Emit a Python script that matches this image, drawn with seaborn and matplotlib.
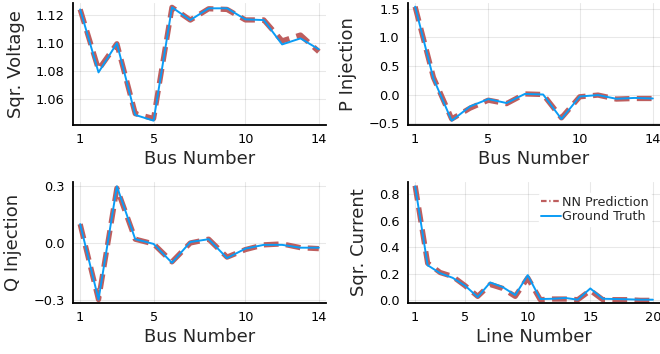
import matplotlib
matplotlib.use("Agg")
import matplotlib.pyplot as plt
import seaborn as sns
import pandas as pd

# ---- data ----
bus = list(range(1, 15))
lines = list(range(1, 21))

v_true = [1.124, 1.079, 1.0998, 1.0486, 1.0445, 1.1255, 1.1164, 1.1248, 1.1248, 1.1169, 1.1164, 1.099, 1.1033, 1.0955]
v_pred = [1.124, 1.081, 1.0995, 1.0495, 1.046, 1.1255, 1.1164, 1.1245, 1.124, 1.1165, 1.1165, 1.1015, 1.1057, 1.0938]

p_true = [1.54, 0.28, -0.46, -0.21, -0.08, -0.15, 0.01, 0.0, -0.43, -0.035, -0.01, -0.075, -0.06, -0.07]
p_pred = [1.54, 0.30, -0.43, -0.24, -0.10, -0.16, 0.01, 0.0, -0.41, -0.04, -0.01, -0.08, -0.07, -0.07]

q_true = [0.10, -0.30, 0.30, 0.02, -0.005, -0.105, 0.005, 0.02, -0.08, -0.03, -0.01, -0.01, -0.025, -0.025]
q_pred = [0.10, -0.30, 0.29, 0.02, -0.005, -0.10, 0.0, 0.02, -0.075, -0.035, -0.01, -0.005, -0.025, -0.03]

i_true = [0.86, 0.265, 0.205, 0.17, 0.11, 0.025, 0.135, 0.10, 0.04, 0.19, 0.01, 0.012, 0.018, 0.005, 0.09, 0.012, 0.01, 0.008, 0.005, 0.005]
i_pred = [0.865, 0.28, 0.21, 0.18, 0.11, 0.03, 0.12, 0.09, 0.03, 0.17, 0.005, 0.01, 0.01, 0.005, 0.075, 0.005, 0.005, 0.005, 0.0, 0.0]

bus_ticks = [1, 5, 10, 14]
line_ticks = [1, 5, 10, 15, 20]

RED = "#bb5555"
BLUE = "#0a9cf5"

sns.set_theme(style="white")
plt.rcParams["font.family"] = ["DejaVu Sans"]

fig = plt.figure(figsize=(6.6, 3.54), dpi=100)

W, H = 660.0, 354.0
def box(l, r, t, b):
    return [l / W, (H - b) / H, (r - l) / W, (b - t) / H]

panels = [
    dict(pos=box(73, 326, 3, 125), x=bus, t=v_true, p=v_pred, xl="Bus Number", yl="Sqr. Voltage",
         xlim=(0.61, 14.39), ylim=(1.0414, 1.1286), xt=bus_ticks,
         yt=[1.06, 1.08, 1.10, 1.12], ytl=["1.06", "1.08", "1.10", "1.12"]),
    dict(pos=box(408, 660, 3, 125), x=bus, t=p_true, p=p_pred, xl="Bus Number", yl="P Injection",
         xlim=(0.61, 14.39), ylim=(-0.535, 1.605), xt=bus_ticks,
         yt=[-0.5, 0.0, 0.5, 1.0, 1.5], ytl=["\u22120.5", "0.0", "0.5", "1.0", "1.5"]),
    dict(pos=box(73, 326, 182, 303), x=bus, t=q_true, p=q_pred, xl="Bus Number", yl="Q Injection",
         xlim=(0.61, 14.39), ylim=(-0.318, 0.323), xt=bus_ticks,
         yt=[-0.3, 0.0, 0.3], ytl=["\u22120.3", "0.0", "0.3"]),
    dict(pos=box(408, 660, 182, 303), x=lines, t=i_true, p=i_pred, xl="Line Number", yl="Sqr. Current",
         xlim=(0.43, 20.57), ylim=(-0.02, 0.893), xt=line_ticks,
         yt=[0.0, 0.2, 0.4, 0.6, 0.8], ytl=["0.0", "0.2", "0.4", "0.6", "0.8"]),
]

for k, pn in enumerate(panels):
    ax = fig.add_axes(pn["pos"])
    df = pd.DataFrame({"x": pn["x"], "pred": pn["p"], "true": pn["t"]})
    sns.lineplot(data=df, x="x", y="pred", ax=ax, color=RED, lw=3.8, alpha=0.95,
                 label="NN Prediction" if k == 3 else None)
    ax.lines[-1].set_dashes([2.8, 1.4])
    sns.lineplot(data=df, x="x", y="true", ax=ax, color=BLUE, lw=1.4,
                 label="Ground Truth" if k == 3 else None)
    ax.set_xlim(*pn["xlim"])
    ax.set_ylim(*pn["ylim"])
    ax.set_xticks(pn["xt"])
    ax.set_xticklabels([str(v) for v in pn["xt"]])
    ax.set_yticks(pn["yt"])
    ax.set_yticklabels(pn["ytl"])
    ax.set_xlabel(pn["xl"], fontsize=13, labelpad=3)
    ax.set_ylabel(pn["yl"], fontsize=13, labelpad=8)
    ax.grid(True, color="#000000", alpha=0.09, lw=0.8)
    ax.set_facecolor("white")
    for s in ["top", "right"]:
        ax.spines[s].set_visible(False)
    for s in ["left", "bottom"]:
        ax.spines[s].set_color("black")
        ax.spines[s].set_linewidth(1.3)
    ax.tick_params(direction="in", length=4, width=1, colors="black", labelsize=9.3, pad=6)
    if k == 3:
        leg = ax.legend(loc="upper right", frameon=True, fontsize=9.2, handlelength=1.5,
                        handletextpad=0.1, borderpad=0.2, labelspacing=0.1,
                        bbox_to_anchor=(0.99, 0.96))
        leg.get_frame().set_edgecolor("white")
        leg.get_frame().set_alpha(1.0)
        leg.get_lines()[0].set_linewidth(1.6)
        leg.get_lines()[0].set_dashes([2.5, 1.2, 0.6, 1.2])
    else:
        if ax.get_legend():
            ax.get_legend().remove()

fig.savefig("out.png", dpi=100)
